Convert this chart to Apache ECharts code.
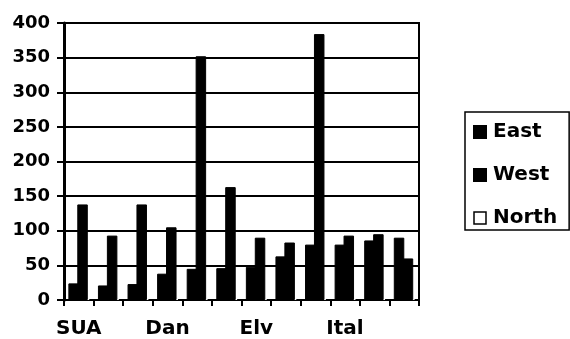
<!DOCTYPE html>
<html>
<head>
<meta charset="utf-8">
<script src="https://cdn.jsdelivr.net/npm/echarts@6/dist/echarts.min.js"></script>
<style>
html,body{margin:0;padding:0;background:#fff;}
#chart{width:570px;height:339px;}
</style>
</head>
<body>
<div id="chart"></div>
<script>
var categories = ['SUA', '', '', 'Dan', '', '', 'Elv', '', '', 'Ital', '', ''];
var eastValues = [24, 21, 23, 38, 45, 46, 48, 63, 80, 80, 86, 90];
var westValues = [138, 93, 138, 105, 352, 163, 90, 83, 384, 93, 95, 60];
var northValues = [30, 28, 30, 32, 35, 34, 36, 40, 42, 44, 45, 45];
var yTicks = { min: 0, max: 400, interval: 50 };

var FONT = 'DejaVu Sans';
var chart = echarts.init(document.getElementById('chart'), null, { renderer: 'canvas' });
chart.setOption({
  animation: false,
  backgroundColor: '#fff',
  grid: {
    left: 64, right: 151, top: 23, bottom: 39,
    show: true, borderColor: '#000', borderWidth: 2, backgroundColor: 'transparent'
  },
  legend: {
    orient: 'vertical',
    left: 465, top: 112,
    padding: [10, 12, 2, 8],
    itemGap: 23,
    itemWidth: 12, itemHeight: 12,
    borderColor: '#000', borderWidth: 1.5,
    icon: 'rect',
    textStyle: { fontFamily: FONT, fontWeight: 'bold', fontSize: 20, color: '#000', padding: [0, 0, 0, 2] },
    data: [
      { name: 'East' },
      { name: 'West' },
      { name: 'North', itemStyle: { color: '#fff', borderColor: '#000', borderWidth: 1.5 } }
    ]
  },
  xAxis: {
    type: 'category',
    data: categories,
    axisLine: { lineStyle: { color: '#000', width: 2 } },
    axisTick: { show: true, interval: 0, length: 6, lineStyle: { color: '#000', width: 2 } },
    axisLabel: { interval: 0, margin: 19, fontFamily: FONT, fontWeight: 'bold', fontSize: 20, color: '#000' },
    splitLine: { show: false }
  },
  yAxis: {
    type: 'value',
    min: yTicks.min, max: yTicks.max, interval: yTicks.interval,
    axisLine: { show: true, lineStyle: { color: '#000', width: 3 } },
    axisTick: { show: true, length: 7, lineStyle: { color: '#000', width: 2 } },
    axisLabel: { margin: 14, fontFamily: FONT, fontWeight: 'bold', fontSize: 18, color: '#000' },
    splitLine: { show: true, lineStyle: { color: '#000', width: 2 } }
  },
  series: [
    { name: 'East', type: 'bar', data: eastValues, barWidth: 10.5, barGap: '-15%', z: 3,
      itemStyle: { color: '#000', borderColor: '#000', borderWidth: 1 } },
    { name: 'West', type: 'bar', data: westValues, barWidth: 10.5, barGap: '-15%', z: 3,
      itemStyle: { color: '#000', borderColor: '#000', borderWidth: 1 } },
    { name: 'North', type: 'bar', data: northValues, barWidth: 3, barGap: '-15%', z: 1,
      itemStyle: { color: '#fff' } }
  ]
});
</script>
</body>
</html>
